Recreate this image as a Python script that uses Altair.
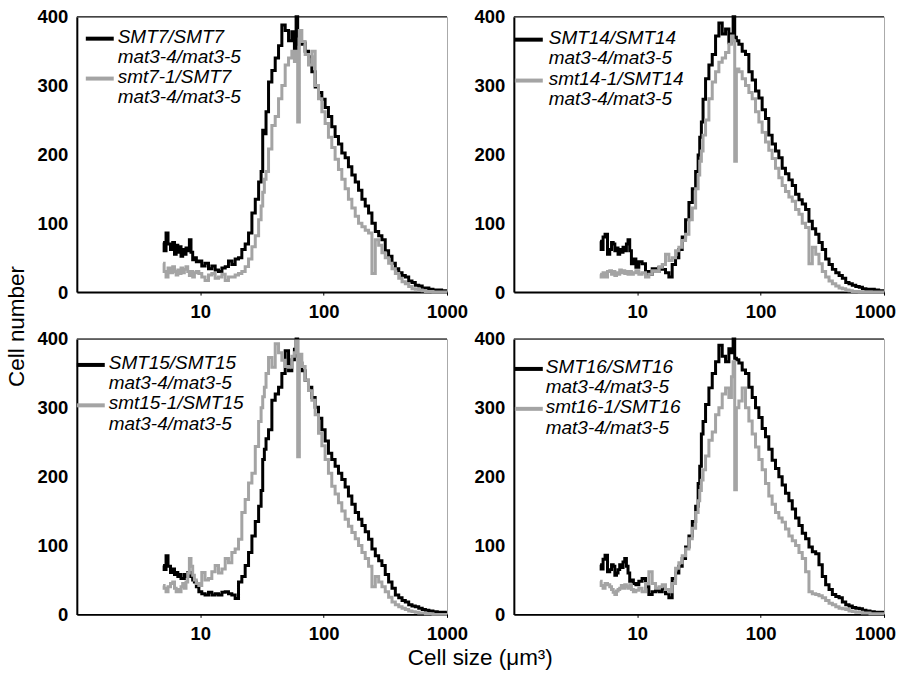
import altair as alt
import pandas as pd

# ---------------- data ----------------
SIZE_UM3 = [5.0, 5.2, 5.37, 5.6, 5.89, 6.08, 6.3, 6.47, 6.7, 6.88,
            7.1, 7.32, 7.55, 7.79, 8.05, 8.29, 8.55, 8.83, 9.11, 9.5,
            10, 10.6, 11.3, 12.05, 12.8, 13.65, 14.5, 15.5, 16.4, 17.5,
            18.6, 19.8, 21.1, 22.4, 23.9, 25.4, 27.1, 28.8, 30.7, 31.6,
            32.6, 33.6, 34.7, 36.9, 39.3, 41.8, 44.5, 47.3, 50.4, 53.6,
            57, 59, 60.7, 62.6, 64.6, 68.7, 73.1, 77.8, 82.8, 88.1,
            93.8, 99.8, 106, 113, 120, 128, 136, 145, 154, 164,
            175, 186, 198, 211, 224, 239, 254, 271, 288, 306,
            326, 347, 370, 393, 420, 445, 474, 505, 536, 571,
            610, 650, 687, 740, 800, 870, 940, 1000]

SMT7_WT = [72, 60, 86, 70, 62, 72, 55, 68, 58, 66,
           52, 62, 55, 64, 60, 76, 58, 47, 50, 44,
           45, 38, 42, 34, 38, 32, 30, 35, 37, 45,
           40, 48, 50, 62, 70, 86, 115, 135, 160, 175,
           235, 230, 262, 305, 322, 340, 358, 388, 380, 365,
           378, 350, 400, 372, 360, 362, 350, 342, 320, 298,
           290, 280, 268, 255, 240, 226, 215, 202, 195, 182,
           170, 160, 148, 135, 125, 115, 100, 88, 82, 76,
           60, 52, 42, 34, 28, 24, 22, 16, 14, 10,
           9, 6, 6, 4, 3, 3, 2, 2]
SMT7_HET = [42, 30, 22, 35, 28, 37, 30, 25, 32, 27,
            35, 28, 33, 37, 30, 24, 30, 22, 28, 30,
            27, 22, 17, 25, 27, 20, 22, 26, 17, 22,
            22, 25, 27, 30, 37, 48, 66, 82, 105, 125,
            145, 164, 175, 208, 242, 255, 281, 300, 330, 340,
            350, 335, 350, 247, 380, 364, 345, 330, 350, 300,
            281, 262, 245, 225, 210, 193, 178, 164, 150, 135,
            122, 110, 100, 95, 90, 86, 27, 76, 68, 57,
            50, 42, 34, 27, 20, 15, 12, 8, 5, 4,
            3, 2, 1, 1, 0, 0, 0, 0]
SMT14_WT = [74, 62, 80, 84, 55, 62, 72, 70, 60, 64,
            55, 62, 58, 65, 60, 70, 76, 60, 41, 48,
            36, 44, 41, 30, 26, 34, 30, 36, 33, 28,
            22, 40, 50, 62, 80, 105, 130, 150, 175, 199,
            225, 247, 280, 310, 330, 345, 372, 391, 375, 382,
            362, 375, 400, 370, 365, 360, 350, 345, 320, 308,
            292, 282, 265, 252, 228, 215, 205, 195, 180, 172,
            163, 155, 142, 134, 128, 120, 103, 92, 84, 72,
            62, 48, 40, 33, 28, 24, 20, 14, 12, 10,
            8, 7, 5, 4, 4, 3, 2, 2]
SMT14_HET = [26, 22, 28, 22, 30, 31, 26, 30, 24, 28,
             26, 32, 28, 31, 27, 30, 26, 30, 26, 28,
             31, 26, 28, 22, 26, 31, 30, 36, 40, 55,
             46, 50, 60, 65, 75, 84, 105, 122, 150, 170,
             190, 205, 228, 250, 281, 305, 320, 334, 340, 348,
             360, 372, 365, 190, 324, 320, 310, 300, 290, 281,
             262, 247, 232, 218, 206, 194, 180, 166, 155, 146,
             138, 132, 120, 113, 100, 94, 41, 65, 55, 41,
             30, 22, 16, 12, 9, 6, 5, 3, 2, 1,
             1, 0, 0, 0, 0, 0, 0, 0]
SMT15_WT = [71, 65, 85, 70, 61, 66, 58, 61, 55, 58,
            52, 52, 58, 55, 61, 61, 55, 50, 47, 40,
            33, 30, 28, 32, 28, 30, 28, 32, 33, 30,
            28, 23, 47, 55, 71, 90, 114, 135, 157, 180,
            225, 240, 255, 268, 311, 320, 330, 350, 383, 354,
            370, 385, 400, 375, 365, 354, 340, 330, 315, 301,
            285, 268, 252, 234, 225, 215, 205, 196, 185, 172,
            160, 148, 138, 129, 120, 109, 95, 85, 78, 71,
            58, 47, 38, 28, 24, 20, 18, 14, 12, 11,
            9, 7, 6, 5, 4, 3, 3, 2]
SMT15_HET = [42, 38, 33, 40, 45, 47, 38, 33, 36, 33,
             40, 45, 38, 47, 60, 81, 70, 57, 50, 45,
             42, 61, 50, 52, 62, 71, 60, 66, 81, 75,
             90, 95, 109, 148, 167, 191, 205, 244, 280, 300,
             316, 330, 350, 373, 359, 393, 380, 369, 360, 359,
             375, 380, 397, 229, 378, 360, 340, 325, 311, 290,
             263, 245, 225, 205, 186, 175, 162, 150, 138, 128,
             119, 110, 100, 90, 81, 70, 40, 55, 47, 40,
             33, 25, 18, 14, 11, 9, 7, 5, 4, 3,
             2, 2, 1, 1, 0, 0, 0, 0]
SMT16_WT = [72, 66, 80, 86, 62, 65, 72, 70, 57, 60,
            65, 72, 68, 76, 81, 70, 60, 48, 50, 45,
            43, 48, 52, 40, 29, 33, 35, 33, 38, 30,
            24, 52, 60, 70, 81, 98, 114, 135, 157, 190,
            215, 262, 280, 305, 329, 350, 367, 391, 375, 367,
            386, 380, 400, 372, 370, 365, 355, 350, 330, 315,
            300, 286, 270, 258, 240, 224, 212, 200, 188, 176,
            165, 153, 140, 129, 118, 110, 98, 91, 88, 72,
            55, 43, 36, 29, 26, 24, 18, 14, 12, 10,
            9, 8, 6, 5, 4, 3, 3, 3]
SMT16_HET = [48, 42, 38, 45, 43, 40, 36, 32, 29, 34,
             36, 38, 42, 38, 43, 40, 38, 43, 36, 33,
             35, 38, 33, 45, 62, 45, 38, 40, 43, 36,
             33, 45, 67, 75, 85, 95, 110, 125, 148, 165,
             180, 195, 210, 230, 253, 265, 290, 300, 320, 329,
             315, 345, 367, 181, 300, 310, 329, 300, 281, 262,
             243, 225, 210, 190, 172, 160, 148, 140, 134, 124,
             114, 107, 100, 90, 81, 62, 33, 30, 29, 27,
             24, 20, 16, 14, 11, 9, 8, 7, 5, 4,
             3, 3, 2, 2, 1, 1, 1, 1]

WT_LABELS = ["SMT7/SMT7", "SMT14/SMT14", "SMT15/SMT15", "SMT16/SMT16"]
HET_LABELS = ["smt7-1/SMT7", "smt14-1/SMT14", "smt15-1/SMT15", "smt16-1/SMT16"]
MAT_LABEL = "mat3-4/mat3-5"
X_TICKS = [10, 100, 1000]
Y_TICKS = [0, 100, 200, 300, 400]
X_DOMAIN = [1, 1000]
Y_DOMAIN = [0, 400]
X_TITLE = "Cell size (μm³)"
Y_TITLE = "Cell number"

for s in (SMT7_WT, SMT7_HET, SMT14_WT, SMT14_HET, SMT15_WT, SMT15_HET, SMT16_WT, SMT16_HET):
    assert len(s) == len(SIZE_UM3), len(s)

# ---------------- styling ----------------
W, H = 371, 276
FONT = "Liberation Sans"
BLACK = "#000000"
GREY = "#a4a4a4"
ONE = pd.DataFrame({"k": [0]})  # single row for decorations (legend, top border)


def panel(wt, het, wt_label, het_label, right_col, leg):
    sx, tx, ys = leg
    df = pd.DataFrame({
        "size": SIZE_UM3 + SIZE_UM3,
        "count": wt + het,
        "series": ["wt"] * len(wt) + ["het"] * len(het),
    })
    xaxis = alt.Axis(values=X_TICKS, format="d", labelFontWeight="bold", labelFontSize=18.5,
                     labelFont=FONT, labelColor="black", domainColor="black",
                     domainWidth=2, tickColor="black", tickSize=3, tickWidth=1,
                     labelPadding=7, grid=False, title=None, labelFlush=False,
                     labelOffset=alt.condition("datum.value == 1000",
                                               alt.value(-9 if right_col else 0),
                                               alt.value(0)))
    yaxis = alt.Axis(values=Y_TICKS, format="d", labelFontWeight="bold", labelFontSize=18.5,
                     labelFont=FONT, labelColor="black", domainColor="black",
                     domainWidth=2, ticks=False, labelPadding=9, grid=False,
                     title=None)
    x = alt.X("size:Q", scale=alt.Scale(type="log", domain=X_DOMAIN, nice=False), axis=xaxis)
    y = alt.Y("count:Q", scale=alt.Scale(domain=Y_DOMAIN, nice=False), axis=yaxis)
    base = alt.Chart(df)
    black = base.transform_filter(alt.datum.series == "wt").mark_line(
        color=BLACK, strokeWidth=3, interpolate="step", strokeJoin="miter").encode(x=x, y=y)
    grey = base.transform_filter(alt.datum.series == "het").mark_line(
        color=GREY, strokeWidth=3, interpolate="step", strokeJoin="miter").encode(x=x, y=y)
    top = alt.Chart(ONE).mark_rule(color="#444444", strokeWidth=1.5).encode(
        x=alt.value(0), x2=alt.value(W), y=alt.value(0))
    layers = [top, black, grey]
    for col, yy in ((BLACK, ys[0]), (GREY, ys[2])):
        layers.append(alt.Chart(ONE).mark_rule(color=col, strokeWidth=4).encode(
            x=alt.value(sx), x2=alt.value(sx + 28), y=alt.value(yy + 2)))
    for txt, yy in zip([wt_label, MAT_LABEL, het_label, MAT_LABEL], ys):
        layers.append(alt.Chart(ONE).mark_text(
            align="left", baseline="middle", font=FONT, fontSize=19,
            fontStyle="italic", fontWeight="normal", color="black").encode(
            x=alt.value(tx), y=alt.value(yy), text=alt.value(txt)))
    return alt.layer(*layers).properties(width=W, height=H)


p1 = panel(SMT7_WT, SMT7_HET, WT_LABELS[0], HET_LABELS[0], False, (9, 41, [20, 40, 60, 80]))
p2 = panel(SMT14_WT, SMT14_HET, WT_LABELS[1], HET_LABELS[1], True, (1, 35, [21, 41, 62, 82]))
p3 = panel(SMT15_WT, SMT15_HET, WT_LABELS[2], HET_LABELS[2], False, (0, 32, [24, 44.5, 64.5, 85]))
p4 = panel(SMT16_WT, SMT16_HET, WT_LABELS[3], HET_LABELS[3], True, (1, 32, [28, 48, 68, 89]))

grid = alt.vconcat(
    alt.hconcat(p1, p2, spacing=4),
    alt.hconcat(p3, p4, spacing=4),
    spacing=8,
).properties(title=alt.TitleParams(X_TITLE, orient="bottom", anchor="middle", font=FONT,
                                    fontSize=22.5, fontWeight="normal", color="black",
                                    offset=4, dx=14))

chart = alt.vconcat(grid).properties(
    title=alt.TitleParams(Y_TITLE, orient="left", anchor="middle", font=FONT, fontSize=22.5,
                          fontWeight="normal", color="black", offset=8, dx=12),
    padding={"left": 6, "top": 6, "right": 0, "bottom": 0},
).configure_view(stroke="#aaaaaa", strokeWidth=1)

chart.save("out.html", embed_options={"renderer": "svg", "actions": False})
